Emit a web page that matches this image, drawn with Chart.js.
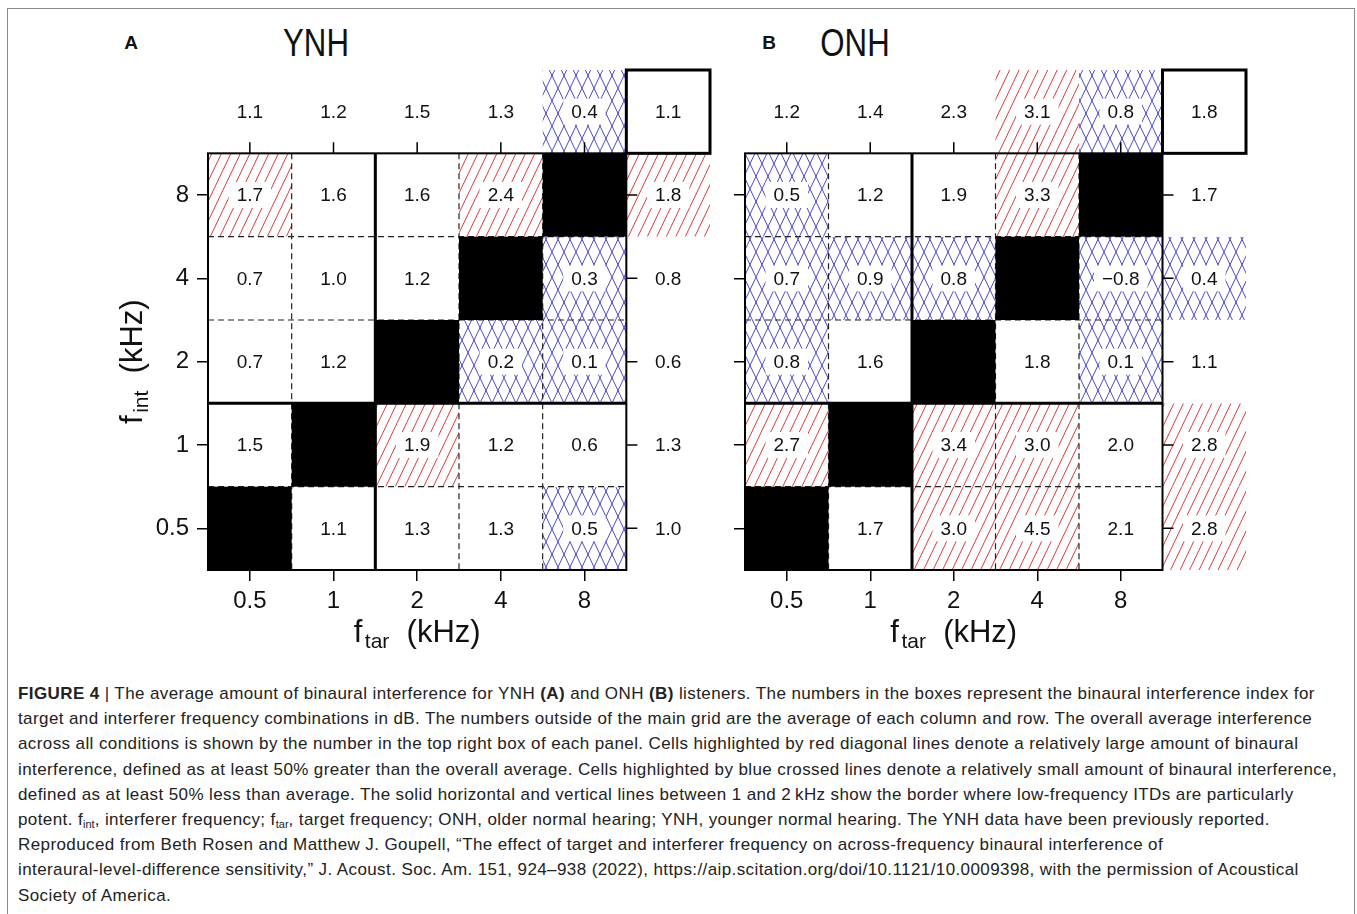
<!DOCTYPE html>
<html>
<head>
<meta charset="utf-8">
<title>Binaural interference by target and interferer frequency</title>
<script src="https://cdn.jsdelivr.net/npm/chart.js@4.4.1/dist/chart.umd.min.js"></script>
<style>
  html, body { margin: 0; padding: 0; background: #fff; width: 1357px; height: 914px; overflow: hidden; }
  .frame { position: absolute; left: 7px; top: 8px; width: 1348px; height: 1200px; box-sizing: border-box; border: 1.5px solid #8a8a8a; }
  canvas { position: absolute; top: 0; }
  #chartA { left: 0; }
  #chartB { left: 720px; }
  .tag { position: absolute; font: bold 19px "Liberation Sans", Arial, sans-serif; color: #111; transform: translate(-50%, -50%); }
  .ttl { position: absolute; font: 39px "Liberation Sans", Arial, sans-serif; color: #111; transform: translate(-50%, -50%) scaleX(0.8); white-space: nowrap; }
  .cap { position: absolute; left: 18px; top: 681px; font: 17px/25.2px "Liberation Sans", Arial, sans-serif; letter-spacing: 0.4px; color: #222; white-space: nowrap; }
  .cap sub { font-size: 11px; vertical-align: -3px; line-height: 0; letter-spacing: 0; }
</style>
</head>
<body>
<div class="frame"></div>
<div class="tag" style="left:131px;top:43px;">A</div>
<div class="ttl" style="left:316px;top:43px;">YNH</div>
<div class="tag" style="left:769px;top:43px;">B</div>
<div class="ttl" style="left:855px;top:43px;">ONH</div>
<canvas id="chartA" width="720" height="670"></canvas>
<canvas id="chartB" width="637" height="670"></canvas>
<div class="cap">
<b>FIGURE 4</b> | The average amount of binaural interference for YNH <b>(A)</b> and ONH <b>(B)</b> listeners. The numbers in the boxes represent the binaural interference index for<br>
target and interferer frequency combinations in dB. The numbers outside of the main grid are the average of each column and row. The overall average interference<br>
across all conditions is shown by the number in the top right box of each panel. Cells highlighted by red diagonal lines denote a relatively large amount of binaural<br>
interference, defined as at least 50% greater than the overall average. Cells highlighted by blue crossed lines denote a relatively small amount of binaural interference,<br>
defined as at least 50% less than average. The solid horizontal and vertical lines between 1 and 2&#8201;kHz show the border where low-frequency ITDs are particularly<br>
potent. f<sub>int</sub>, interferer frequency; f<sub>tar</sub>, target frequency; ONH, older normal hearing; YNH, younger normal hearing. The YNH data have been previously reported.<br>
Reproduced from Beth Rosen and Matthew J. Goupell, “The effect of target and interferer frequency on across-frequency binaural interference of<br>
interaural-level-difference sensitivity,” J. Acoust. Soc. Am. 151, 924–938 (2022), https://aip.scitation.org/doi/10.1121/10.0009398, with the permission of Acoustical<br>
Society of America.
</div>
<script>
// Frequency labels (kHz) for target (columns) and interferer (rows)
const ftarLabels = ['0.5', '1', '2', '4', '8'];
const fintLabels = ['0.5', '1', '2', '4', '8'];

// Binaural interference index (dB); rows run from f_int = 0.5 kHz (bottom) to 8 kHz (top).
// null marks target = interferer frequency (filled black).
const ynhRows = [
  [null, 1.1, 1.3, 1.3, 0.5],
  [1.5, null, 1.9, 1.2, 0.6],
  [0.7, 1.2, null, 0.2, 0.1],
  [0.7, 1.0, 1.2, null, 0.3],
  [1.7, 1.6, 1.6, 2.4, null]
];
const ynhRowMeans = [1.0, 1.3, 0.6, 0.8, 1.8];
const ynhColMeans = [1.1, 1.2, 1.5, 1.3, 0.4];
const ynhOverall = 1.1;

const onhRows = [
  [null, 1.7, 3.0, 4.5, 2.1],
  [2.7, null, 3.4, 3.0, 2.0],
  [0.8, 1.6, null, 1.8, 0.1],
  [0.7, 0.9, 0.8, null, -0.8],
  [0.5, 1.2, 1.9, 3.3, null]
];
const onhRowMeans = [2.8, 2.8, 1.1, 0.4, 1.7];
const onhColMeans = [1.2, 1.4, 2.3, 3.1, 0.8];
const onhOverall = 1.8;

const FONT = '"Liberation Sans", Arial, sans-serif';
const INK = '#111';

function fmt(v) {
  return v < 0 ? '\u2212' + Math.abs(v).toFixed(1) : v.toFixed(1);
}

// Lines of the family x + dir*y/s = k*step, clipped to the rectangle
function hatchLines(ctx, R, step, s, dir) {
  const yb = R.t + R.h, yt = R.t;
  const kmin = Math.floor(Math.min(R.l + dir * yt / s, R.l + dir * yb / s) / step) - 1;
  const kmax = Math.ceil(Math.max(R.l + R.w + dir * yt / s, R.l + R.w + dir * yb / s) / step) + 1;
  ctx.beginPath();
  for (let k = kmin; k <= kmax; k++) {
    ctx.moveTo(k * step - dir * yb / s, yb);
    ctx.lineTo(k * step - dir * yt / s, yt);
  }
  ctx.stroke();
}

function hatch(ctx, R, level) {
  ctx.save();
  ctx.beginPath();
  ctx.rect(R.l, R.t, R.w, R.h);
  ctx.clip();
  ctx.lineWidth = 1;
  if (level === 'high') {
    ctx.strokeStyle = '#e03a3a';
    hatchLines(ctx, R, 9.5, 2.1, 1);
  } else if (level === 'low') {
    ctx.strokeStyle = '#4a4ad8';
    hatchLines(ctx, R, 12, 2.1, 1);
    hatchLines(ctx, R, 12, 2.1, -1);
  }
  ctx.restore();
}

function subLabel(ctx, main, sub, rest, size) {
  const big = size + 'px ' + FONT, small = Math.round(size * 0.68) + 'px ' + FONT;
  ctx.font = big; const w1 = ctx.measureText(main).width; const w3 = ctx.measureText(rest).width;
  ctx.font = small; const w2 = ctx.measureText(sub).width;
  const gap = size * 0.08;
  const total = w1 + gap + w2 + w3;
  let x = -total / 2;
  ctx.textAlign = 'left';
  ctx.textBaseline = 'alphabetic';
  ctx.font = big; ctx.fillText(main, x, 0); x += w1 + gap;
  ctx.font = small; ctx.fillText(sub, x, size * 0.2); x += w2;
  ctx.font = big; ctx.fillText(rest, x, 0);
}

const gridPlugin = {
  id: 'interferenceGrid',
  afterDatasetsDraw(chart, args, opts) {
    const { ctx, scales: { x, y } } = chart;
    const px = v => x.getPixelForValue(v);
    const py = v => y.getPixelForValue(v);
    const cellRect = (c, r) => {
      const l = px(c - 0.5), rr = px(c + 0.5), t = py(r + 0.5), b = py(r - 0.5);
      return { l, t, w: rr - l, h: b - t, cx: (l + rr) / 2, cy: (t + b) / 2 };
    };
    const nCols = ftarLabels.length, nRows = fintLabels.length;
    const overallSet = chart.data.datasets.find(d => d.role === 'overall');
    const overall = overallSet.data[0].v;
    const level = v => v == null ? 'self'
      : v >= 1.5 * overall - 1e-9 ? 'high'
      : v <= 0.5 * overall + 1e-9 ? 'low' : 'mid';

    const pts = [];
    chart.data.datasets.forEach(ds => ds.data.forEach(p => pts.push({ p, role: ds.role })));

    // hatch for cells well above / below the overall mean
    pts.forEach(({ p }) => {
      const lv = level(p.v);
      if (lv === 'high' || lv === 'low') hatch(ctx, cellRect(p.x, p.y), lv);
    });

    const gl = px(-0.5), gr = px(nCols - 0.5), gt = py(nRows - 0.5), gb = py(-0.5);

    // dashed inner grid
    ctx.save();
    ctx.strokeStyle = '#222';
    ctx.lineWidth = 1.2;
    ctx.setLineDash([6, 4]);
    ctx.beginPath();
    for (let c = 1; c < nCols; c++) { const xx = px(c - 0.5); ctx.moveTo(xx, gt); ctx.lineTo(xx, gb); }
    for (let r = 1; r < nRows; r++) { const yy = py(r - 0.5); ctx.moveTo(gl, yy); ctx.lineTo(gr, yy); }
    ctx.stroke();
    ctx.restore();

    // same-frequency cells
    ctx.fillStyle = '#000';
    pts.forEach(({ p }) => {
      if (p.v == null) { const R = cellRect(p.x, p.y); ctx.fillRect(R.l, R.t, R.w, R.h); }
    });

    // values
    ctx.font = '19px ' + FONT;
    ctx.textAlign = 'center';
    ctx.textBaseline = 'middle';
    pts.forEach(({ p }) => {
      if (p.v == null) return;
      const R = cellRect(p.x, p.y);
      const txt = fmt(p.v);
      const lv = level(p.v);
      if (lv === 'high' || lv === 'low') {
        const w = ctx.measureText(txt).width + 16;
        ctx.fillStyle = '#fff';
        ctx.fillRect(R.cx - w / 2, R.cy - 13, w, 26);
      }
      ctx.fillStyle = INK;
      ctx.fillText(txt, R.cx, R.cy + 1);
    });

    // borders: main grid, low/high frequency divide, overall box
    ctx.save();
    ctx.strokeStyle = '#000';
    ctx.lineWidth = 2;
    ctx.strokeRect(gl, gt, gr - gl, gb - gt);
    ctx.lineWidth = 3;
    ctx.beginPath();
    const xd = px(1.5), yd = py(1.5);
    ctx.moveTo(xd, gt); ctx.lineTo(xd, gb);
    ctx.moveTo(gl, yd); ctx.lineTo(gr, yd);
    ctx.stroke();
    const o = overallSet.data[0];
    const B = cellRect(o.x, o.y);
    ctx.strokeRect(B.l, B.t, B.w, B.h);

    // ticks on top and right edges of the grid
    ctx.lineWidth = 1.5;
    ctx.beginPath();
    for (let c = 0; c < nCols; c++) { ctx.moveTo(px(c), gt); ctx.lineTo(px(c), gt - 11); }
    for (let r = 0; r < nRows; r++) { ctx.moveTo(gr, py(r)); ctx.lineTo(gr + 11, py(r)); }
    ctx.stroke();
    ctx.restore();

    // axis titles
    ctx.save();
    ctx.fillStyle = INK;
    ctx.translate((gl + gr) / 2, gb + 72);
    subLabel(ctx, 'f', 'tar', '  (kHz)', 31);
    ctx.restore();
    if (opts.yTitle) {
      ctx.save();
      ctx.fillStyle = INK;
      ctx.translate(gl - 66, (gt + gb) / 2);
      ctx.rotate(-Math.PI / 2);
      subLabel(ctx, 'f', 'int', '  (kHz)', 31);
      ctx.restore();
    }
  }
};

function buildDatasets(rows, rowMeans, colMeans, overall) {
  return [
    { role: 'cells', data: rows.flatMap((row, r) => row.map((v, c) => ({ x: c, y: r, v }))) },
    { role: 'rowMeans', data: rowMeans.map((v, r) => ({ x: ftarLabels.length, y: r, v })) },
    { role: 'colMeans', data: colMeans.map((v, c) => ({ x: c, y: fintLabels.length, v })) },
    { role: 'overall', data: [{ x: ftarLabels.length, y: fintLabels.length, v: overall }] }
  ];
}

function makeChart(id, rows, rowMeans, colMeans, overall, cfg) {
  const datasets = buildDatasets(rows, rowMeans, colMeans, overall).map(d => Object.assign(d, {
    pointRadius: 0, pointHoverRadius: 0, showLine: false
  }));
  return new Chart(document.getElementById(id), {
    type: 'scatter',
    data: { datasets },
    options: {
      responsive: false,
      animation: false,
      events: [],
      layout: { padding: { top: 70, right: cfg.padRight, left: 0, bottom: 0 } },
      plugins: {
        legend: { display: false },
        tooltip: { enabled: false },
        interferenceGrid: { yTitle: cfg.yTitle }
      },
      scales: {
        x: {
          type: 'linear', min: -0.5, max: ftarLabels.length + 0.5,
          afterBuildTicks: s => { s.ticks = ftarLabels.map((_, i) => ({ value: i })); },
          afterFit: s => { s.height = 100; },
          ticks: { callback: v => ftarLabels[v], font: { size: 24, family: FONT }, color: INK, padding: 6, maxRotation: 0, autoSkip: false },
          grid: { drawOnChartArea: false, drawTicks: true, tickLength: 11, color: '#000', lineWidth: 1.5 },
          border: { display: false }
        },
        y: {
          type: 'linear', min: -0.5, max: fintLabels.length + 0.5,
          afterBuildTicks: s => { s.ticks = fintLabels.map((_, i) => ({ value: i })); },
          afterFit: s => { s.width = cfg.yWidth; },
          ticks: { display: cfg.yLabels, callback: v => fintLabels[v], font: { size: 24, family: FONT }, color: INK, padding: 8, autoSkip: false },
          grid: { drawOnChartArea: false, drawTicks: true, tickLength: 11, color: '#000', lineWidth: 1.5 },
          border: { display: false }
        }
      }
    },
    plugins: [gridPlugin]
  });
}

makeChart('chartA', ynhRows, ynhRowMeans, ynhColMeans, ynhOverall, { padRight: 10, yWidth: 208, yLabels: true, yTitle: true });
makeChart('chartB', onhRows, onhRowMeans, onhColMeans, onhOverall, { padRight: 111, yWidth: 25, yLabels: false, yTitle: false });
</script>
</body>
</html>
